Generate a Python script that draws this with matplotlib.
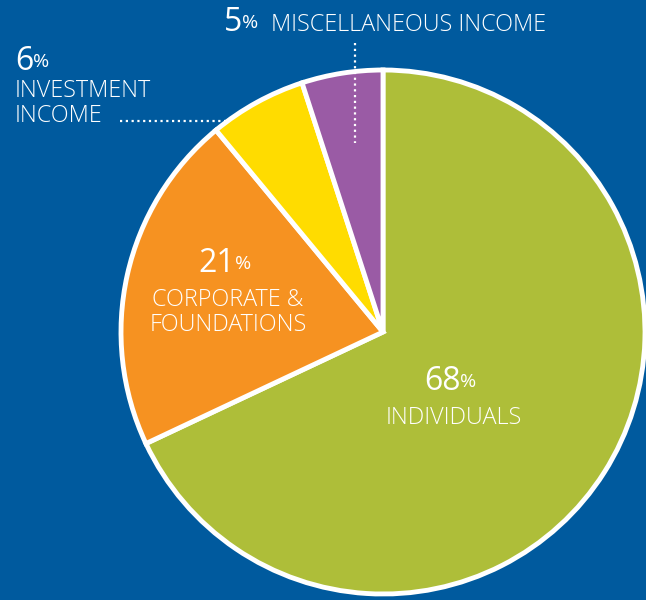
import matplotlib
matplotlib.use('Agg')
import matplotlib.pyplot as plt

# revenue breakdown
labels = ['INDIVIDUALS', 'CORPORATE &\nFOUNDATIONS', 'INVESTMENT\nINCOME', 'MISCELLANEOUS INCOME']
shares = [68, 21, 6, 5]
colors = ['#AEBE39', '#F69221', '#FFDC00', '#9A5BA5']
bg = '#005A9E'

plt.rcParams['font.family'] = ['Open Sans', 'DejaVu Sans']
plt.rcParams['font.weight'] = 'light'
LBL = 16.8   # label size
NUM = 23     # big number size
PCT = 14     # percent sign size

fig = plt.figure(figsize=(6.46, 6.0), dpi=100, facecolor=bg)
ax = fig.add_axes([0, 0, 1, 1])
ax.set_facecolor(bg)
ax.axis('off')

H = 600
def y(py):
    return H - py

# dotted leader lines
ax.plot([120, 272], [y(121), y(121)], color='white', lw=1.6, ls=(0, (1, 1.6)), zorder=1)
ax.plot([355, 355], [y(43), y(143)], color='white', lw=1.6, ls=(0, (1, 1.6)), zorder=3)

wedges, _ = ax.pie(shares, colors=colors, startangle=90, counterclock=False,
                   center=(383, y(332)), radius=262,
                   wedgeprops=dict(edgecolor='white', linewidth=3.5))
for w in wedges:
    w.set_zorder(2)
ax.set_xlim(0, 646)
ax.set_ylim(0, 600)
ax.set_aspect('equal')


def pct(x, py, value, ha='left'):
    t = ax.text(x, y(py), str(value), color='white', fontsize=NUM, fontweight='normal',
                ha=ha, va='baseline', zorder=5)
    fig.canvas.draw()
    bb = t.get_window_extent()
    ax.text(bb.x1, y(py) + 3, '%', color='white', fontsize=PCT, fontweight='normal',
            ha='left', va='baseline', zorder=5)


def pct_center(cx, py, value, shift=11):
    # shift number so that number+% looks centered
    t = ax.text(cx - shift, y(py), str(value), color='white', fontsize=NUM, fontweight='normal',
                ha='center', va='baseline', zorder=5)
    fig.canvas.draw()
    bb = t.get_window_extent()
    ax.text(bb.x1, y(py) + 3, '%', color='white', fontsize=PCT, fontweight='normal',
            ha='left', va='baseline', zorder=5)


pct(224, 31, shares[3])
ax.text(271, y(31), labels[3], color='white', fontsize=LBL, ha='left', va='baseline', zorder=5)

pct(15, 70, shares[2])
ax.text(15, y(97), 'INVESTMENT', color='white', fontsize=LBL, ha='left', va='baseline')
ax.text(15, y(122), 'INCOME', color='white', fontsize=LBL, ha='left', va='baseline')

pct_center(228, 272, shares[1])
ax.text(228, y(306), 'CORPORATE &', color='white', fontsize=LBL, ha='center', va='baseline', zorder=5)
ax.text(228, y(331), 'FOUNDATIONS', color='white', fontsize=LBL, ha='center', va='baseline', zorder=5)

pct_center(453, 390, shares[0])
ax.text(454, y(424), labels[0], color='white', fontsize=LBL, ha='center', va='baseline', zorder=5)

fig.savefig('out.png', dpi=100, facecolor=bg)
